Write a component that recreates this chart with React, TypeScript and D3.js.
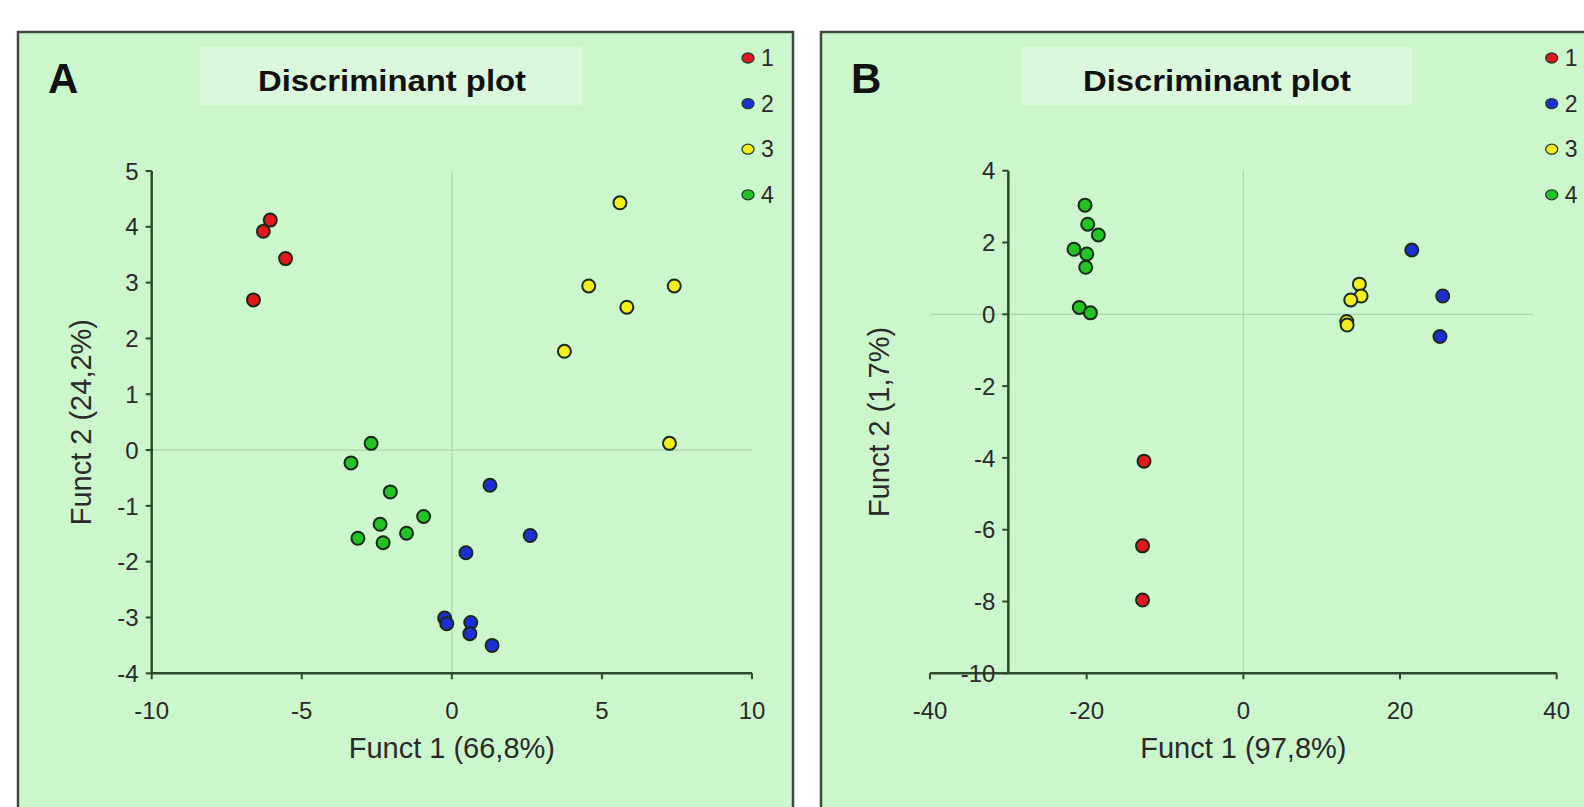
import React from 'react';
import * as d3 from 'd3';

// ---------- Data ----------
const groups = ['1', '2', '3', '4'];
const groupColors = ['#e3171c', '#1b2fd6', '#f2ee1c', '#22c322'];

// Panel A (Funct 1 vs Funct 2)
const aGroup1: [number, number][] = [[-6.05, 4.12], [-6.28, 3.92], [-5.54, 3.43], [-6.61, 2.69]];
const aGroup2: [number, number][] = [[1.27, -0.63], [2.61, -1.53], [0.47, -1.84], [-0.24, -3.01], [-0.17, -3.11], [0.63, -3.09], [0.6, -3.29], [1.34, -3.5]];
const aGroup3: [number, number][] = [[5.6, 4.43], [4.56, 2.94], [7.41, 2.94], [5.83, 2.56], [3.75, 1.77], [7.25, 0.12]];
const aGroup4: [number, number][] = [[-2.69, 0.12], [-3.36, -0.23], [-2.05, -0.75], [-0.94, -1.19], [-2.39, -1.33], [-1.51, -1.49], [-3.13, -1.58], [-2.29, -1.66]];
const aXTicks = [-10, -5, 0, 5, 10];
const aYTicks = [5, 4, 3, 2, 1, 0, -1, -2, -3, -4];

// Panel B
const bGroup1: [number, number][] = [[-12.68, -4.09], [-12.87, -6.45], [-12.87, -7.96]];
const bGroup2: [number, number][] = [[21.5, 1.79], [25.45, 0.51], [25.1, -0.62]];
const bGroup3: [number, number][] = [[14.81, 0.84], [15.03, 0.51], [13.71, 0.4], [13.2, -0.2], [13.25, -0.3]];
const bGroup4: [number, number][] = [[-20.21, 3.04], [-19.87, 2.51], [-18.51, 2.21], [-21.62, 1.81], [-19.99, 1.68], [-20.12, 1.31], [-20.94, 0.19], [-19.52, 0.04]];
const bXTicks = [-40, -20, 0, 20, 40];
const bYTicks = [4, 2, 0, -2, -4, -6, -8, -10];

const FONT = '"Liberation Sans", Arial, sans-serif';
const AXIS = '#2c4a2c';
const TEXT = '#2a2a2a';
const BG = '#ccf7cc';

type PanelProps = {
  letter: string;
  frameX: number;
  frameW: number;
  titleBox: [number, number];
  titleX: number;
  xDomain: [number, number];
  xRange: [number, number];
  yDomain: [number, number];
  yRange: [number, number];
  yAxisAt: number;
  xAxisAt: number;
  hLineEnd: number;
  xTicks: number[];
  yTicks: number[];
  data: [number, number][][];
  xLabel: string;
  yLabel: string;
  yLabelX: number;
  legendX: number;
};

function Panel(p: PanelProps) {
  const x = d3.scaleLinear().domain(p.xDomain).range(p.xRange);
  const y = d3.scaleLinear().domain(p.yDomain).range(p.yRange);
  const ax = x(p.yAxisAt);
  const ay = y(p.xAxisAt);
  const yTop = y(p.yDomain[1]);
  const midX = (x(p.xDomain[0]) + x(p.xDomain[1])) / 2;
  return (
    <g>
      <rect x={p.frameX} y={32} width={p.frameW} height={800} fill={BG} stroke="#3d4a3d" strokeWidth={2.5} />
      <rect x={p.titleBox[0]} y={47} width={p.titleBox[1]} height={58} fill="#dcf8dc" />
      <text x={p.frameX + 30} y={93} fontFamily={FONT} fontWeight="bold" fontSize={42} fill="#111">{p.letter}</text>
      <text x={p.titleX} y={91} textAnchor="middle" fontFamily={FONT} fontWeight="bold" fontSize={30} fill="#111" textLength={268} lengthAdjust="spacingAndGlyphs">Discriminant plot</text>
      {/* zero reference lines */}
      <line x1={x(0)} x2={x(0)} y1={yTop} y2={ay} stroke="#aed6ae" strokeWidth={1.2} />
      <line x1={x(p.xDomain[0])} x2={x(p.hLineEnd)} y1={y(0)} y2={y(0)} stroke="#aed6ae" strokeWidth={1.2} />
      {/* axes */}
      <line x1={ax} x2={ax} y1={yTop} y2={ay} stroke={AXIS} strokeWidth={2.5} />
      <line x1={x(p.xDomain[0])} x2={x(p.xDomain[1])} y1={ay} y2={ay} stroke={AXIS} strokeWidth={2.5} />
      {p.yTicks.map((t) => (
        <g key={'y' + t}>
          <line x1={ax - 6} x2={ax} y1={y(t)} y2={y(t)} stroke={AXIS} strokeWidth={2} />
          <text x={ax - 13} y={y(t)} dy="0.36em" textAnchor="end" fontFamily={FONT} fontSize={24} fill={TEXT}>{t}</text>
        </g>
      ))}
      {p.xTicks.map((t) => (
        <g key={'x' + t}>
          <line x1={x(t)} x2={x(t)} y1={ay} y2={ay + 6} stroke={AXIS} strokeWidth={2} />
          <text x={x(t)} y={ay + 46} textAnchor="middle" fontFamily={FONT} fontSize={24} fill={TEXT}>{t}</text>
        </g>
      ))}
      <text x={midX} y={758} textAnchor="middle" fontFamily={FONT} fontSize={29} fill={TEXT}>{p.xLabel}</text>
      <text transform={`translate(${p.yLabelX},${(yTop + ay) / 2}) rotate(-90)`} textAnchor="middle" fontFamily={FONT} fontSize={29} fill={TEXT}>{p.yLabel}</text>
      {p.data.map((pts, gi) =>
        pts.map((d, i) => (
          <circle key={gi + '-' + i} cx={x(d[0])} cy={y(d[1])} r={6.5} fill={groupColors[gi]} stroke="#1a2a1a" strokeWidth={2} />
        ))
      )}
      {groups.map((g, i) => (
        <g key={'lg' + g}>
          <ellipse cx={p.legendX} cy={58 + i * 45.6} rx={6} ry={5} fill={groupColors[i]} stroke="#2a3a2a" strokeWidth={1.3} />
          <text x={p.legendX + 13} y={58 + i * 45.6} dy="0.36em" fontFamily={FONT} fontSize={23} fill={TEXT}>{g}</text>
        </g>
      ))}
    </g>
  );
}

export default function App() {
  return (
    <svg width={1584} height={807} style={{ position: 'absolute', left: 0, top: 0, background: '#fff' }}>
      <Panel
        letter="A"
        frameX={18}
        frameW={775}
        titleBox={[200, 383]}
        titleX={392}
        xDomain={[-10, 10]}
        xRange={[151.7, 752]}
        yDomain={[-4, 5]}
        yRange={[673.3, 171]}
        yAxisAt={-10}
        xAxisAt={-4}
        hLineEnd={10}
        xTicks={aXTicks}
        yTicks={aYTicks}
        data={[aGroup1, aGroup2, aGroup3, aGroup4]}
        xLabel="Funct 1 (66,8%)"
        yLabel="Funct 2 (24,2%)"
        yLabelX={91}
        legendX={748}
      />
      <Panel
        letter="B"
        frameX={821}
        frameW={800}
        titleBox={[1022, 390]}
        titleX={1217}
        xDomain={[-40, 40]}
        xRange={[930, 1556.7]}
        yDomain={[-10, 4]}
        yRange={[673.3, 170.7]}
        yAxisAt={-30}
        xAxisAt={-10}
        hLineEnd={37}
        xTicks={bXTicks}
        yTicks={bYTicks}
        data={[bGroup1, bGroup2, bGroup3, bGroup4]}
        xLabel="Funct 1 (97,8%)"
        yLabel="Funct 2 (1,7%)"
        yLabelX={889}
        legendX={1551.7}
      />
    </svg>
  );
}
